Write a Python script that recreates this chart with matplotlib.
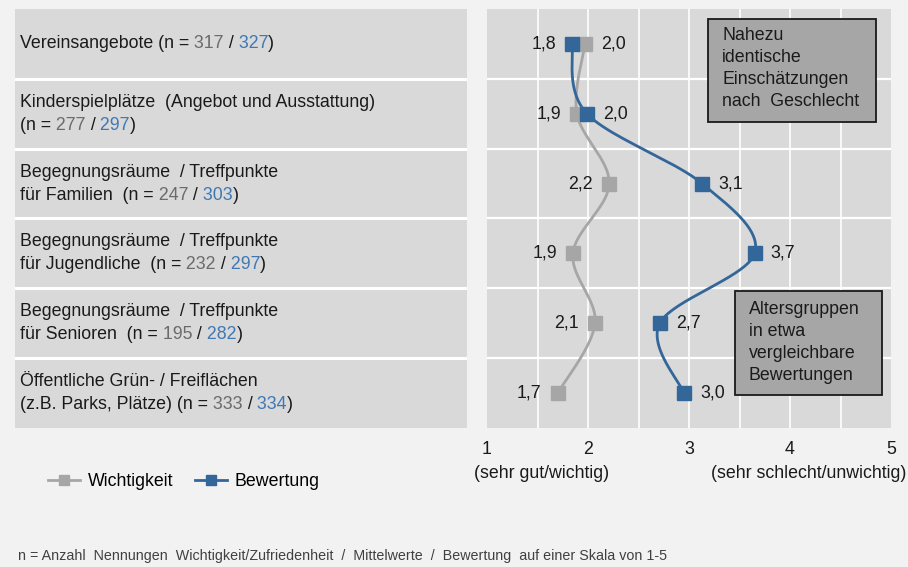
import matplotlib
matplotlib.use("Agg")
import matplotlib.pyplot as plt
import numpy as np
from matplotlib.lines import Line2D
from matplotlib.patches import Rectangle

plt.rcParams['font.family'] = ['Liberation Sans', 'DejaVu Sans']

# ---------------- data ----------------
cat_lines = [
    ["Vereinsangebote"],
    ["Kinderspielplätze  (Angebot und Ausstattung)", ""],
    ["Begegnungsräume  / Treffpunkte", "für Familien "],
    ["Begegnungsräume  / Treffpunkte", "für Jugendliche "],
    ["Begegnungsräume  / Treffpunkte", "für Senioren "],
    ["Öffentliche Grün- / Freiflächen", "(z.B. Parks, Plätze)"],
]
n_wichtig = ["317", "277", "247", "232", "195", "333"]
n_bewert = ["327", "297", "303", "297", "282", "334"]

wichtigkeit = [1.97, 1.89, 2.21, 1.85, 2.07, 1.70]
bewertung = [1.84, 1.99, 3.13, 3.65, 2.71, 2.95]
wichtigkeit_lbl = ["2,0", "1,9", "2,2", "1,9", "2,1", "1,7"]
bewertung_lbl = ["1,8", "2,0", "3,1", "3,7", "2,7", "3,0"]

xticks = [1, 2, 3, 4, 5]
series_names = ["Wichtigkeit", "Bewertung"]
box1_lines = ["Nahezu", "identische", "Einschätzungen", "nach  Geschlecht"]
box2_lines = ["Altersgruppen", "in etwa", "vergleichbare", "Bewertungen"]
footnote = ("n = Anzahl  Nennungen  Wichtigkeit/Zufriedenheit  /  Mittelwerte  /  "
            "Bewertung  auf einer Skala von 1-5")
sub_left = "(sehr gut/wichtig)"
sub_right = "(sehr schlecht/unwichtig)"

# ---------------- styles ----------------
W, H = 908, 567
BG = "#f2f2f2"
PANEL = "#d9d9d9"
GREY = "#a6a6a6"
BLUE = "#336699"
NGREY = "#6b6b6b"
NBLUE = "#3f78b4"
TXT = "#1a1a1a"
FS = 12.8

fig = plt.figure(figsize=(W / 100, H / 100), dpi=100, facecolor=BG)

def px_rect(x0, y0, x1, y1):
    return [x0 / W, 1 - y1 / H, (x1 - x0) / W, (y1 - y0) / H]

n = len(cat_lines)
top, bottom = 9, 428

# left label panel
axl = fig.add_axes(px_rect(15, top, 467, bottom))
axl.set_xlim(0, 452)
axl.set_ylim(n - 0.5, -0.5)
axl.set_facecolor(PANEL)
for s in axl.spines.values():
    s.set_visible(False)
axl.set_xticks([]); axl.set_yticks([])
for b in np.arange(0.5, n - 0.5, 1):
    axl.axhline(b, color="white", lw=2.2)

# plot panel
ax = fig.add_axes(px_rect(487, top, 891, bottom))
ax.set_xlim(1, 5)
ax.set_ylim(n - 0.5, -0.5)
ax.set_facecolor(PANEL)
for s in ax.spines.values():
    s.set_visible(False)
ax.set_xticks(xticks)
ax.set_xticklabels([str(t) for t in xticks], fontsize=FS, color=TXT)
ax.tick_params(axis="x", length=0, pad=9)
ax.set_yticks([])
for xv in np.arange(1.5, 5, 0.5):
    ax.axvline(xv, color="white", lw=1.2, zorder=1)
for b in np.arange(0.5, n - 0.5, 1):
    ax.axhline(b, color="white", lw=1.6, zorder=1)

# smooth curve (Bezier with Catmull-Rom tangents in pixel space)
sx, sy = 101.0, 70.0
def smooth(xs, ys, steps=40):
    P = np.column_stack([np.array(xs) * sx, np.array(ys) * sy])
    out = []
    m = len(P)
    for i in range(m - 1):
        p0 = P[i]; p3 = P[i + 1]
        pm = P[i - 1] if i > 0 else P[i]
        pp = P[i + 2] if i + 2 < m else P[i + 1]
        c1 = p0 + (p3 - pm) / 6.0
        c2 = p3 - (pp - p0) / 6.0
        t = np.linspace(0, 1, steps)[:, None]
        seg = ((1 - t) ** 3) * p0 + 3 * ((1 - t) ** 2) * t * c1 + 3 * (1 - t) * t ** 2 * c2 + t ** 3 * p3
        out.append(seg if i == 0 else seg[1:])
    out = np.vstack(out)
    return out[:, 0] / sx, out[:, 1] / sy

ys = np.arange(n)
for vals, col in [(wichtigkeit, GREY), (bewertung, BLUE)]:
    cx, cy = smooth(vals, ys)
    ax.plot(cx, cy, color=col, lw=2.0, zorder=3, solid_capstyle="round")
    ax.plot(vals, ys, ls="none", marker="s", ms=9.5, color=col, zorder=4)

for i in range(n):
    w, b = wichtigkeit[i], bewertung[i]
    if w >= b:
        pairs = [(w, wichtigkeit_lbl[i], 1), (b, bewertung_lbl[i], -1)]
    else:
        pairs = [(w, wichtigkeit_lbl[i], -1), (b, bewertung_lbl[i], 1)]
    for v, lbl, d in pairs:
        ax.annotate(lbl, (v, i), xytext=(16 * d, 0), textcoords="offset pixels",
                    ha="left" if d > 0 else "right", va="center",
                    fontsize=FS, color=TXT, zorder=5)

# category labels with coloured n values
fig.canvas.draw()
renderer = fig.canvas.get_renderer()

def seq_text(x, y, parts):
    for txt, col in parts:
        t = axl.text(x, y, txt, color=col, fontsize=FS, ha="left", va="center")
        bb = t.get_window_extent(renderer)
        x = axl.transData.inverted().transform((bb.x1, bb.y0))[0]

off = 0.165
for i, lines in enumerate(cat_lines):
    if len(lines) == 1:
        ypos = [i]
    else:
        ypos = [i - off, i + off]
    for j, ln in enumerate(lines[:-1]):
        axl.text(5, ypos[j], ln, color=TXT, fontsize=FS, ha="left", va="center")
    last = lines[-1]
    head = (last + " (n =") if last else "(n ="
    seq_text(5, ypos[-1], [(head, TXT), (" " + n_wichtig[i], NGREY), (" /", TXT),
                           (" " + n_bewert[i], NBLUE), (")", TXT)])

# overlay for annotations
ov = fig.add_axes([0, 0, 1, 1], facecolor="none")
ov.set_xlim(0, W); ov.set_ylim(H, 0)
ov.axis("off")
ov.set_zorder(10)

def box(x0, y0, x1, y1, tx, ty0, lines):
    ov.add_patch(Rectangle((x0, y0), x1 - x0, y1 - y0, facecolor="#a6a6a6",
                           edgecolor="#1a1a1a", lw=1.3))
    for k, ln in enumerate(lines):
        ov.text(tx, ty0 + 22 * k, ln, fontsize=FS, color=TXT, ha="left", va="center")

box(708, 19, 876, 122, 722, 36, box1_lines)
box(735, 291, 882, 395, 749, 310, box2_lines)

ov.text(542, 473, sub_left, fontsize=FS, color=TXT, ha="center", va="center")
ov.text(906, 473, sub_right, fontsize=FS, color=TXT, ha="right", va="center")
ov.text(18, 556, footnote, fontsize=10.3, color="#404040", ha="left", va="center")

handles = [Line2D([], [], color=GREY, lw=2.0, marker="s", ms=7.5),
           Line2D([], [], color=BLUE, lw=2.0, marker="s", ms=7.5)]
fig.legend(handles, series_names, loc="center left",
           bbox_to_anchor=(48 / W, 1 - 482 / H), ncol=2, frameon=False,
           fontsize=FS, handlelength=1.8, handletextpad=0.45, columnspacing=1.2,
           borderpad=0, borderaxespad=0)

fig.savefig("out.png", dpi=100, facecolor=BG)
